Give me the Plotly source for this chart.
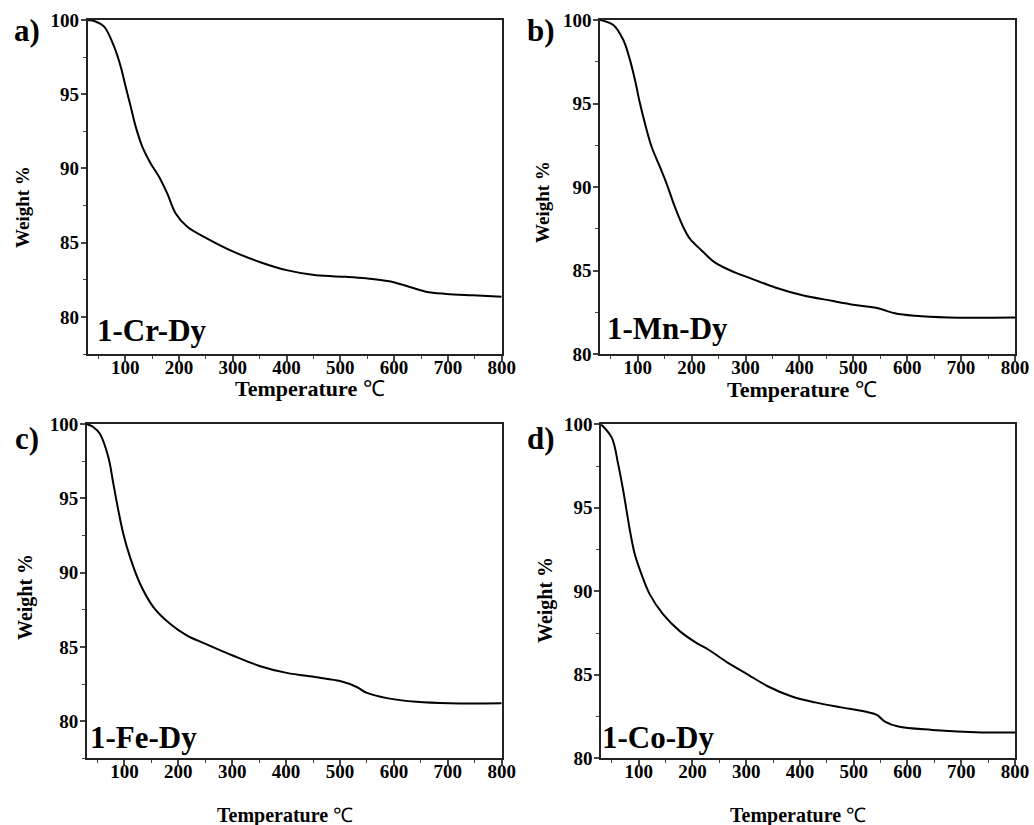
import plotly.graph_objects as go

# ---- data ----
t_a = [30, 45, 61, 79.5, 91.8, 101, 110.4, 119.7, 132, 147.5, 163, 178.4, 193.9, 215.5, 252.6, 301, 350, 400, 455, 511, 548, 591, 622, 659, 697, 746, 800]
w_a = [100, 99.9, 99.55, 98.2, 96.85, 95.5, 94.15, 92.8, 91.46, 90.34, 89.44, 88.3, 86.97, 86.07, 85.28, 84.4, 83.7, 83.15, 82.8, 82.7, 82.6, 82.4, 82.1, 81.7, 81.55, 81.45, 81.35]

t_b = [30, 54.7, 73.3, 85.7, 95, 104.2, 113.5, 125.9, 141.3, 153.7, 169.1, 184.6, 197, 219, 243, 280, 305, 355, 404, 460, 503, 546, 577, 614, 676, 800]
w_b = [100, 99.7, 98.8, 97.6, 96.4, 95.0, 93.8, 92.4, 91.2, 90.2, 88.8, 87.6, 86.9, 86.2, 85.5, 84.9, 84.6, 84.0, 83.55, 83.2, 82.95, 82.75, 82.45, 82.3, 82.2, 82.2]

t_c = [30, 42, 54.7, 70.2, 79.5, 88.7, 98, 110.4, 129, 153.7, 184.6, 215.5, 249.5, 302, 352, 401, 457, 500, 531, 550, 587, 642, 704, 800]
w_c = [100, 99.8, 99.33, 97.76, 95.97, 94.18, 92.6, 91.04, 89.25, 87.68, 86.56, 85.78, 85.22, 84.4, 83.7, 83.25, 82.95, 82.7, 82.3, 81.9, 81.55, 81.3, 81.2, 81.2]

t_d = [30, 50, 62, 71.5, 77.7, 84, 93, 105.6, 121, 146, 177, 208, 230, 267, 304, 341, 385, 428, 477, 521, 543, 558, 583, 646, 738, 800]
w_d = [100, 99.2, 97.6, 96.0, 94.8, 93.6, 92.2, 91.0, 89.8, 88.6, 87.6, 86.9, 86.5, 85.7, 85.0, 84.3, 83.7, 83.35, 83.05, 82.8, 82.6, 82.2, 81.9, 81.7, 81.55, 81.55]

sample_names = ["1-Cr-Dy", "1-Mn-Dy", "1-Fe-Dy", "1-Co-Dy"]
panel_letters = ["a)", "b)", "c)", "d)"]
x_ticks = [100, 200, 300, 400, 500, 600, 700, 800]
y_ticks = [80, 85, 90, 95, 100]
y_ranges = [[77.5, 100], [80, 100], [77.5, 100], [80, 100]]

W, H = 1034, 825
FONT = "Liberation Serif"


def px(x):
    return x / W


def py(y):
    return 1 - y / H


# pixel boxes: left, right, top, bottom
boxes = [(87.5, 501.7, 20, 354), (600, 1015, 20, 354.3),
         (86.7, 501.7, 424, 758.3), (601, 1015, 424.3, 758.3)]

fig = go.Figure()
series = [(t_a, w_a), (t_b, w_b), (t_c, w_c), (t_d, w_d)]
for i, (t, w) in enumerate(series):
    sfx = "" if i == 0 else str(i + 1)
    fig.add_trace(go.Scatter(x=t, y=w, mode="lines", line=dict(color="black", width=2, shape="spline", smoothing=1.0),
                             xaxis="x" + sfx, yaxis="y" + sfx, showlegend=False))

layout = dict(width=W, height=H, margin=dict(l=0, r=0, t=0, b=0, pad=0, autoexpand=False),
              paper_bgcolor="white", plot_bgcolor="white",
              font=dict(family=FONT, color="black"))
annotations = []
for i, (l, r, tp, bt) in enumerate(boxes):
    sfx = "" if i == 0 else str(i + 1)
    xd = [px(l), px(r)]
    yd = [py(bt), py(tp)]
    layout["xaxis" + sfx] = dict(domain=xd, range=[30, 800], anchor="y" + sfx, automargin=False,
                                 tickvals=x_ticks, ticks="outside", ticklen=5, tickwidth=1.5,
                                 showline=True, linewidth=1.5, linecolor="#222", mirror=True,
                                 showgrid=False, zeroline=False, ticklabelstandoff=-10,
                                 tickfont=dict(family=FONT, size=19, color="black", weight="bold"),
                                 minor=dict(dtick=50, tick0=0, ticks="outside", ticklen=3, tickwidth=1.2, showgrid=False))
    layout["yaxis" + sfx] = dict(domain=yd, range=y_ranges[i], anchor="x" + sfx, automargin=False,
                                 tickvals=y_ticks, ticks="outside", ticklen=5, tickwidth=1.5,
                                 showline=True, linewidth=1.5, linecolor="#222", mirror=True,
                                 showgrid=False, zeroline=False, ticklabelstandoff=-2,
                                 tickfont=dict(family=FONT, size=19, color="black", weight="bold"),
                                 minor=dict(dtick=2.5, tick0=0, ticks="outside", ticklen=3, tickwidth=1.2, showgrid=False))

# text placements (pixel coords)
letter_pos = [(27, 30), (541, 30), (27, 438), (541, 438)]
name_pos = [(95, 330), (605, 328), (88, 737), (600, 737)]
ylab_pos = [(22, 207), (542, 202), (25, 597), (545, 600)]
xlab_pos = [(310, 389), (802, 390), (285, 815), (798, 815)]
xlab_size = [22, 22, 20, 20]
ylab_size = [19, 19, 20, 20]

for i in range(4):
    lx, ly = letter_pos[i]
    annotations.append(dict(x=px(lx), y=py(ly), xref="paper", yref="paper", text="<b>%s</b>" % panel_letters[i],
                            showarrow=False, font=dict(family=FONT, size=31, color="black"), xanchor="center", yanchor="middle"))
    nx, ny = name_pos[i]
    annotations.append(dict(x=px(nx), y=py(ny), xref="paper", yref="paper", text="<b>%s</b>" % sample_names[i],
                            showarrow=False, font=dict(family=FONT, size=31, color="black"), xanchor="left", yanchor="middle"))
    yx, yy = ylab_pos[i]
    annotations.append(dict(x=px(yx), y=py(yy), xref="paper", yref="paper", text="<b>Weight %</b>", textangle=-90,
                            showarrow=False, font=dict(family=FONT, size=ylab_size[i], color="black"), xanchor="center", yanchor="middle"))
    tx, ty = xlab_pos[i]
    annotations.append(dict(x=px(tx), y=py(ty), xref="paper", yref="paper", text="<b>Temperature</b> ℃",
                            showarrow=False, font=dict(family=FONT, size=xlab_size[i], color="black"), xanchor="center", yanchor="middle"))

layout["annotations"] = annotations
fig.update_layout(**layout)
fig.write_html("out.html", config={"displayModeBar": False},
               post_script="document.body.style.margin='0';document.body.style.overflow='hidden';")
